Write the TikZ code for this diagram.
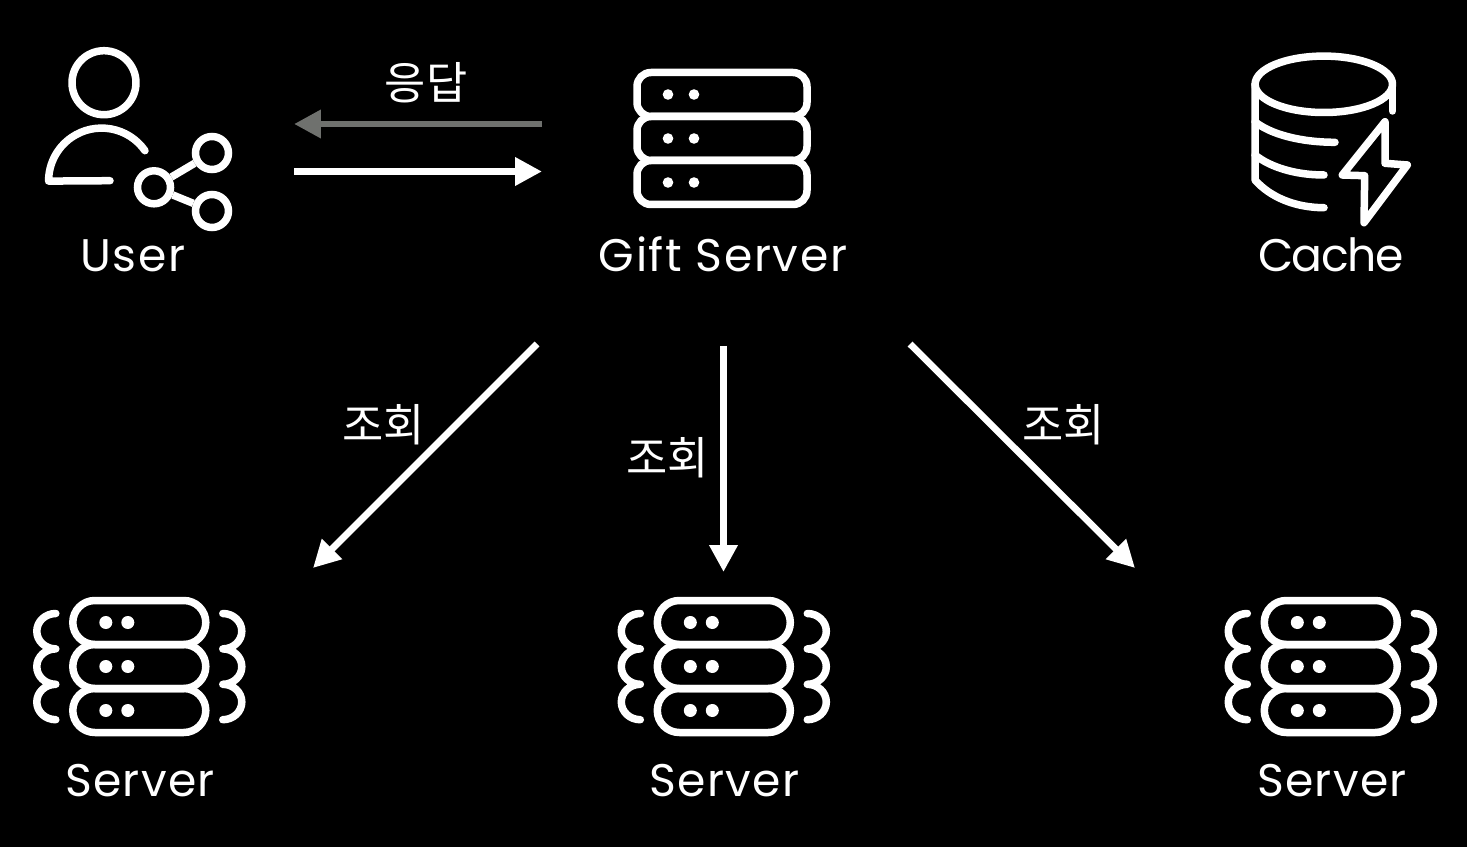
\documentclass[tikz,border=0pt]{standalone}
\usepackage{fontspec}
\setmainfont{Poppins}
\newfontfamily\krfont{Noto Sans CJK KR}
\usetikzlibrary{arrows.meta}
\definecolor{replygray}{HTML}{6F716E}
\tikzset{
	icon/.style={draw=white, line width=7.5*0.02cm, line cap=round, line join=round},
	dot/.style={fill=white},
	caption/.style={anchor=base, text=white, inner sep=0pt, font=\fontsize{26pt}{30pt}\selectfont},
	korean/.style={anchor=center, text=white, inner sep=0pt, font=\krfont\fontsize{25.5pt}{28pt}\selectfont},
	link/.style={draw=white, line width=0.135cm, -{Triangle[length=0.54cm,width=0.54cm]}},
	sharenode/.style={circle, draw=white, line width=7.5*0.02cm, minimum size=33*0.02cm, inner sep=0pt}
}
% stack of three bars, centre (#1,#2), half width #3, corner radius #4, dots at #5 and #6, dot radius #7
\def\rackstack(#1,#2)(#3:#4)(#5:#6:#7){
	\begin{scope}[shift={(#1,#2)}]
		\draw[icon, rounded corners=#4*0.02cm] (-#3, -66) rectangle (#3, -22);
		\draw[icon, rounded corners=#4*0.02cm] (-#3, -22) rectangle (#3, 22);
		\draw[icon, rounded corners=#4*0.02cm] (-#3, 22) rectangle (#3, 66);
		\fill[dot] (#5, -44) circle (#7);
		\fill[dot] (#6, -44) circle (#7);
		\fill[dot] (#5, 0) circle (#7);
		\fill[dot] (#6, 0) circle (#7);
		\fill[dot] (#5, 44) circle (#7);
		\fill[dot] (#6, 44) circle (#7);
	\end{scope}
}
% the curly side lines of a lower server
\def\sidewaves(#1,#2){
	\begin{scope}[shift={(#1,#2)}]
		\draw[icon] (-83.5, -53) arc[start angle=270, end angle=90, x radius=19, y radius=17.7]
			arc[start angle=270, end angle=90, x radius=19, y radius=17.7]
			arc[start angle=270, end angle=90, x radius=19, y radius=17.7];
		\draw[icon] (83.5, -53) arc[start angle=-90, end angle=90, x radius=19, y radius=17.7]
			arc[start angle=-90, end angle=90, x radius=19, y radius=17.7]
			arc[start angle=-90, end angle=90, x radius=19, y radius=17.7];
	\end{scope}
}
\begin{document}
\begin{tikzpicture}[x=0.02cm, y=-0.02cm]
	%%%%% START %%%%%
	\fill[black] (0, 0) rectangle (1467, 847);
	\useasboundingbox (0, 0) rectangle (1467, 847);

	% user
	\draw[icon] (104, 82.7) circle (32);
	\draw[icon] (145, 150.7) arc[start angle=-35, end angle=-180, radius=53] -- (110, 180.7);
	\node[sharenode] (shareMid) at (154, 187.3) {};
	\node[sharenode] (shareTop) at (212, 153) {};
	\node[sharenode] (shareBot) at (212, 211) {};
	\draw[icon, line cap=butt] (shareMid) -- (shareTop);
	\draw[icon, line cap=butt] (shareMid) -- (shareBot);
	\node[caption] (userLabel) at (133, 272) {\addfontfeature{LetterSpace=4}User};

	% gift server
	\rackstack(722, 138.5)(85:14)(-54:-28:5.3)
	\node[caption] (giftLabel) at (723, 272) {\addfontfeature{LetterSpace=3.5}Gift Server};

	% cache
	\draw[icon] (1323.8, 84.3) ellipse [x radius=68.7, y radius=28.2];
	\draw[icon] (1392.5, 84.3) -- (1392.5, 111);
	\draw[icon] (1255, 84.3) -- (1255, 180) .. controls (1270, 197) and (1295, 207.7) .. (1324, 207.7);
	\draw[icon] (1255, 121.7) .. controls (1270, 134) and (1300, 142.3) .. (1335, 142.3);
	\draw[icon] (1255, 155) .. controls (1270, 167) and (1295, 175) .. (1324, 175);
	\draw[icon] (1385, 121.7) -- (1385, 163.3) -- (1407.3, 165) -- (1364, 222.7) -- (1364.7, 175.7) -- (1342.3, 175) -- cycle;
	\node[caption] (cacheLabel) at (1331, 272) {\addfontfeature{LetterSpace=-3}Cache};

	% lower servers
	\rackstack(139.3, 666.5)(66.5:22)(-33.5:-11.5:6.5)
	\sidewaves(139.3, 666.5)
	\node[caption] (serverLabelA) at (140, 796) {\addfontfeature{LetterSpace=2.8}Server};

	\rackstack(723.8, 666.5)(66.5:22)(-33.5:-11.5:6.5)
	\sidewaves(723.8, 666.5)
	\node[caption] (serverLabelB) at (724.5, 796) {\addfontfeature{LetterSpace=2.8}Server};

	\rackstack(1330.8, 666.5)(66.5:22)(-33.5:-11.5:6.5)
	\sidewaves(1330.8, 666.5)
	\node[caption] (serverLabelC) at (1332, 796) {\addfontfeature{LetterSpace=2.8}Server};

	% arrows
	\coordinate (replyStart) at (542, 124);
	\coordinate (replyEnd) at (294, 124);
	\coordinate (askStart) at (294, 171.5);
	\coordinate (askEnd) at (542, 171.5);
	\coordinate (leftStart) at (537, 344);
	\coordinate (leftEnd) at (313, 568);
	\coordinate (midStart) at (723.5, 346);
	\coordinate (midEnd) at (723.5, 572);
	\coordinate (rightStart) at (910, 344);
	\coordinate (rightEnd) at (1135, 568);
	\draw[link, draw=replygray] (replyStart) -- (replyEnd);
	\draw[link] (askStart) -- (askEnd);
	\draw[link] (leftStart) -- (leftEnd);
	\draw[link] (midStart) -- (midEnd);
	\draw[link] (rightStart) -- (rightEnd);

	\node[korean] (replyLabel) at (426, 82.5) {응답};
	\node[korean] (lookupLeft) at (383.5, 425) {조회};
	\node[korean] (lookupMid) at (667.5, 457.5) {조회};
	\node[korean] (lookupRight) at (1063.5, 425) {조회};
	%%%%% END %%%%%
\end{tikzpicture}
\end{document}
